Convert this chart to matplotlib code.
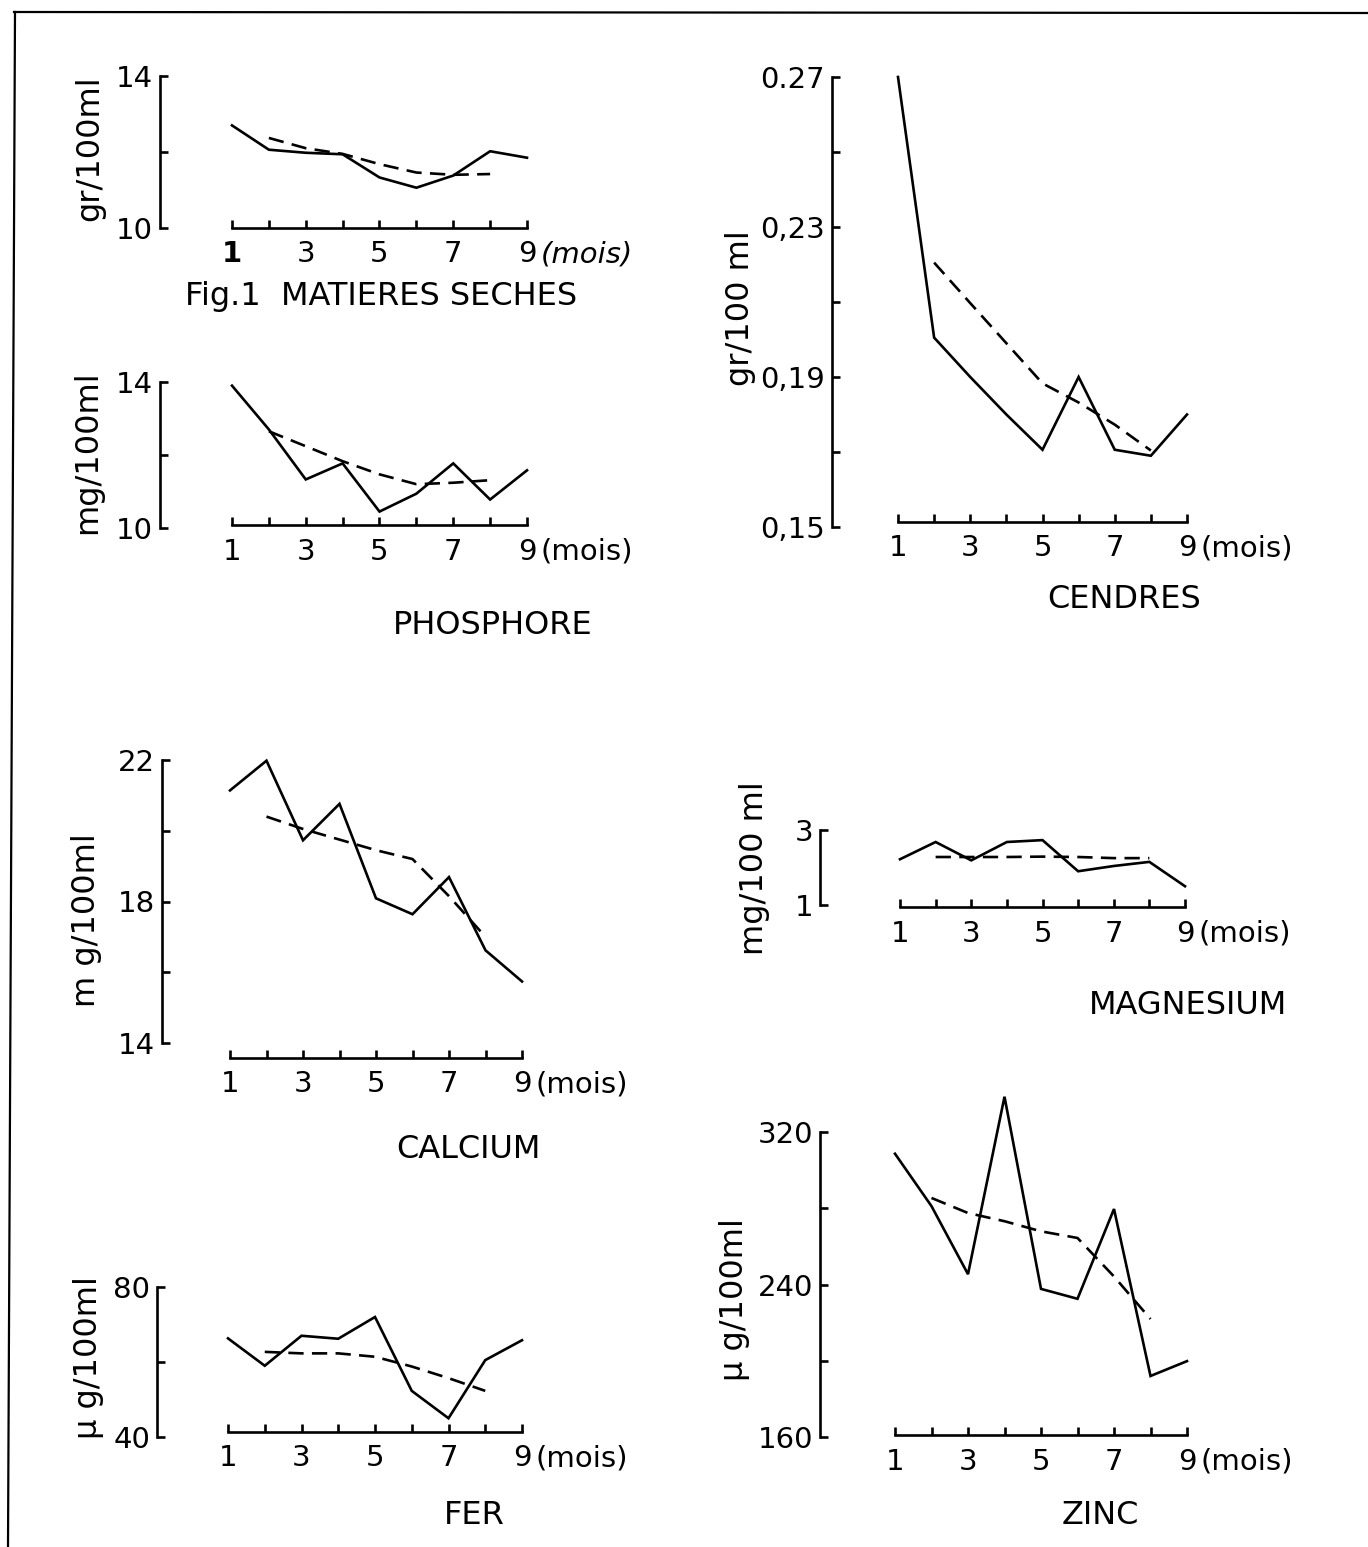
import matplotlib
matplotlib.use("Agg")
import matplotlib.pyplot as plt
from matplotlib.lines import Line2D

plt.rcParams['font.family'] = ['DejaVu Sans']
plt.rcParams['lines.scale_dashes'] = False

W, H = 1368, 1547
DPI = 100

# ---------------- data ----------------
months = [1, 2, 3, 4, 5, 6, 7, 8, 9]
months_dash = [2, 3, 4, 5, 6, 7, 8]

ms_solid = [12.70, 12.06, 11.98, 11.94, 11.33, 11.06, 11.38, 12.02, 11.85]
ms_dash = [12.37, 12.10, 11.95, 11.68, 11.46, 11.40, 11.42]

ph_solid = [13.90, 12.70, 11.33, 11.77, 10.45, 10.94, 11.77, 10.78, 11.58]
ph_dash = [12.65, 12.24, 11.83, 11.47, 11.20, 11.24, 11.31]

ce_solid = [0.270, 0.2005, 0.190, 0.180, 0.1706, 0.190, 0.1706, 0.169, 0.180]
ce_dash = [0.2205, 0.2097, 0.199, 0.1883, 0.1832, 0.1773, 0.1704]

ca_solid = [21.14, 21.98, 19.73, 20.76, 18.09, 17.64, 18.69, 16.62, 15.74]
ca_dash = [20.40, 20.05, 19.75, 19.45, 19.20, 18.15, 17.00]

mg_solid = [2.22, 2.68, 2.19, 2.68, 2.73, 1.90, 2.04, 2.15, 1.50]
mg_dash = [2.28, 2.28, 2.28, 2.29, 2.28, 2.25, 2.25]

fe_solid = [66.3, 59.0, 67.0, 66.2, 72.0, 52.3, 45.0, 60.5, 65.8]
fe_dash = [62.7, 62.3, 62.3, 61.4, 58.8, 55.7, 52.3]

zn_solid = [308.6, 281.1, 245.4, 338.5, 237.7, 232.5, 279.6, 192.0, 199.8]
zn_dash = [285.4, 277.5, 273.2, 267.9, 264.4, 244.2, 221.9]

x_major = [1, 3, 5, 7, 9]
x_minor = [2, 4, 6, 8]
x_unit = "(mois)"

# panel definitions: pixel layout (x of month1, x of month9, y of top tick,
# y of bottom tick, x of y-spine, y of x-axis line), ticks, labels
panels = [
    dict(title="Fig.1  MATIERES SECHES", ylabel="gr/100ml",
         solid=ms_solid, dash=ms_dash,
         ymin=10, ymax=14, yticks=[10, 14], ytl=["10", "14"], yminor=[12],
         px=(232, 527, 76, 228, 160, 228),
         ylab_xy=(90, 148), title_xy=(381, 296), first=True),
    dict(title="PHOSPHORE", ylabel="mg/100ml",
         solid=ph_solid, dash=ph_dash,
         ymin=10, ymax=14, yticks=[10, 14], ytl=["10", "14"], yminor=[12],
         px=(232, 527, 382, 528, 160, 525),
         ylab_xy=(88, 452), title_xy=(493, 625)),
    dict(title="CENDRES", ylabel="gr/100 ml",
         solid=ce_solid, dash=ce_dash,
         ymin=0.15, ymax=0.27, yticks=[0.15, 0.19, 0.23, 0.27],
         ytl=["0,15", "0,19", "0,23", "0.27"], yminor=[0.17, 0.21, 0.25],
         px=(898, 1187, 77, 527, 832, 522),
         ylab_xy=(741, 308), title_xy=(1124, 600)),
    dict(title="CALCIUM", ylabel="m g/100ml",
         solid=ca_solid, dash=ca_dash,
         ymin=14, ymax=22, yticks=[14, 18, 22], ytl=["14", "18", "22"], yminor=[16, 20],
         px=(230, 522, 760, 1043, 162, 1058),
         ylab_xy=(86, 920), title_xy=(468, 1150)),
    dict(title="MAGNESIUM", ylabel="mg/100 ml",
         solid=mg_solid, dash=mg_dash,
         ymin=1, ymax=3, yticks=[1, 3], ytl=["1", "3"], yminor=[],
         px=(900, 1185, 830, 905, 820, 907),
         ylab_xy=(755, 868), title_xy=(1188, 1005)),
    dict(title="FER", ylabel="\u00b5 g/100ml",
         solid=fe_solid, dash=fe_dash,
         ymin=40, ymax=80, yticks=[40, 80], ytl=["40", "80"], yminor=[60],
         px=(228, 522, 1287, 1437, 157, 1432),
         ylab_xy=(88, 1358), title_xy=(474, 1515)),
    dict(title="ZINC", ylabel="\u00b5 g/100ml",
         solid=zn_solid, dash=zn_dash,
         ymin=160, ymax=320, yticks=[160, 240, 320], ytl=["160", "240", "320"],
         yminor=[200, 280],
         px=(895, 1187, 1132, 1437, 820, 1435),
         ylab_xy=(735, 1300), title_xy=(1100, 1515)),
]

fig = plt.figure(figsize=(W / DPI, H / DPI), dpi=DPI)
fig.patch.set_facecolor("white")

LW = 1.9
TICK_FS = 21
LAB_FS = 23
TITLE_FS = 23
PT = 72.0 / DPI  # points per pixel

for p in panels:
    x1, x9, ytop, ybot, xsp, yax = p["px"]
    ax = fig.add_axes([x1 / W, 1 - ybot / H, (x9 - x1) / W, (ybot - ytop) / H])
    ax.set_xlim(1, 9)
    ax.set_ylim(p["ymin"], p["ymax"])
    ax.patch.set_visible(False)
    for s in ("top", "right"):
        ax.spines[s].set_visible(False)
    ax.spines["left"].set_position(("outward", (x1 - xsp) * PT))
    ax.spines["bottom"].set_position(("outward", (yax - ybot) * PT))
    ax.spines["left"].set_bounds(p["ymin"], p["ymax"])
    ax.spines["bottom"].set_bounds(1, 9)
    for s in ("left", "bottom"):
        ax.spines[s].set_linewidth(LW)
    ax.set_xticks(x_major)
    ax.set_xticklabels([str(v) for v in x_major])
    ax.set_xticks(x_minor, minor=True)
    ax.set_yticks(p["yticks"])
    ax.set_yticklabels(p["ytl"])
    ax.set_yticks(p["yminor"], minor=True)
    ax.tick_params(axis="both", which="both", direction="in", width=LW,
                   length=6, labelsize=TICK_FS, pad=6)
    ax.tick_params(axis="x", which="major", pad=9)
    ax.tick_params(axis="y", which="major", pad=5)
    first = p.get("first", False)
    if first:
        ax.get_xticklabels()[0].set_fontweight("bold")

    ax.plot(months, p["solid"], color="black", lw=LW, clip_on=False,
            solid_joinstyle="miter")
    ax.plot(months_dash, p["dash"], color="black", lw=LW, clip_on=False,
            dashes=(11, 6))

    # unit after the "9" tick label
    ax.annotate(x_unit, xy=(9, 0), xycoords=("data", "axes fraction"),
                xytext=(10, -(yax - ybot) * PT - 9), textcoords="offset points",
                ha="left", va="top", fontsize=TICK_FS,
                style="italic" if first else "normal")

    fig.text(p["ylab_xy"][0] / W, 1 - p["ylab_xy"][1] / H, p["ylabel"],
             rotation=90, ha="center", va="center", fontsize=LAB_FS)
    fig.text(p["title_xy"][0] / W, 1 - p["title_xy"][1] / H, p["title"],
             ha="center", va="center", fontsize=TITLE_FS)

# scan frame lines (top and left)
fig.add_artist(Line2D([14 / W, 1.0], [1 - 12 / H, 1 - 13 / H],
                      transform=fig.transFigure, color="black", lw=1.6))
fig.add_artist(Line2D([15 / W, 8 / W], [1 - 12 / H, 0.0],
                      transform=fig.transFigure, color="black", lw=1.6))

fig.savefig("out.png", dpi=DPI, facecolor="white")
